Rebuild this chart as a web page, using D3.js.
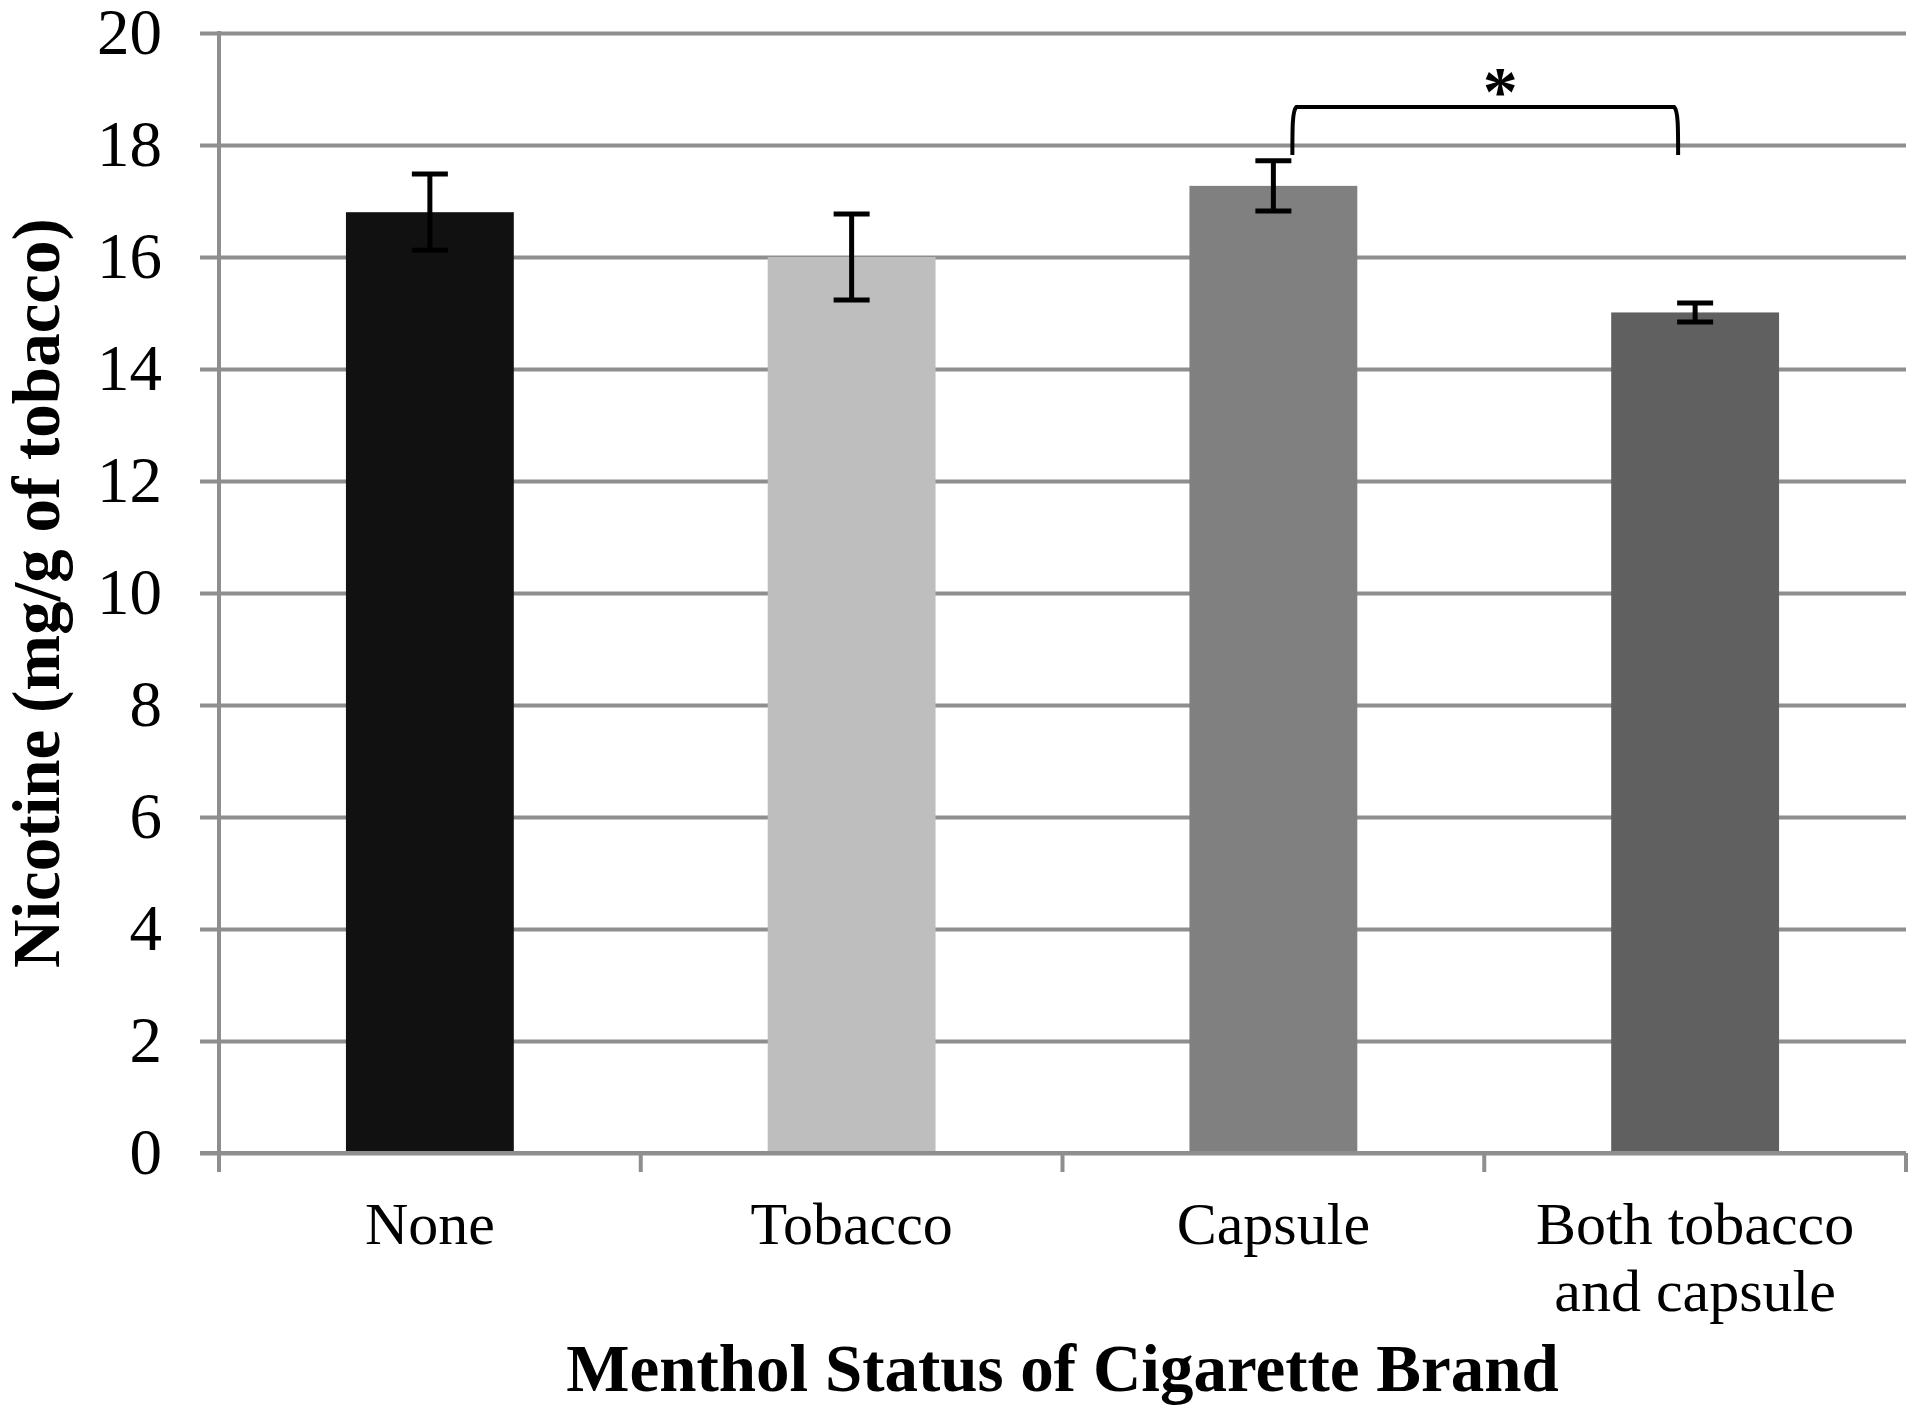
<!DOCTYPE html>
<html>
<head>
<meta charset="utf-8">
<script src="https://cdn.jsdelivr.net/npm/d3@7"></script>
<style>
  body { margin: 0; background: #fff; }
  text { font-family: "Liberation Serif", "Times New Roman", serif; fill: #000; }
</style>
</head>
<body>
<div id="chart-area"></div>
<script>
// values
const categories = ["None", "Tobacco", "Capsule", "Both tobacco and capsule"];
const labelLines = [["None"], ["Tobacco"], ["Capsule"], ["Both tobacco", "and capsule"]];
const nicotine = [16.8, 16.0, 17.27, 15.01];
const errors = [0.68, 0.77, 0.45, 0.17];
const barColors = ["#111111", "#bebebe", "#808080", "#606060"];
const yTicks = [0, 2, 4, 6, 8, 10, 12, 14, 16, 18, 20];
const bracket = { from: "Capsule", to: "Both tobacco and capsule", top: 18.68, drop: 17.82, mark: "*" };

const width = 1920, height = 1412;
const plotLeft = 219, plotRight = 1906, plotTop = 33, plotBottom = 1153;

const svg = d3.select("#chart-area").append("svg")
    .attr("width", width)
    .attr("height", height);

const x = d3.scaleBand()
    .domain(categories)
    .range([plotLeft, plotRight])
    .padding(0);

const y = d3.scaleLinear()
    .domain([0, 20])
    .range([plotBottom, plotTop]);

// gridlines + y tick labels
const yAxis = svg.append("g")
    .attr("transform", "translate(200,0)")
    .call(d3.axisLeft(y).tickValues(yTicks).tickSize(-(plotRight - 200)).tickPadding(38));
yAxis.select(".domain").remove();
yAxis.selectAll(".tick line")
    .attr("stroke", "#8e8e8e")
    .attr("stroke-width", 4);
yAxis.selectAll(".tick text")
    .style("font-family", "'Liberation Serif', 'Times New Roman', serif")
    .style("font-size", "65px")
    .attr("fill", "#000");

// vertical axis line
svg.append("line")
    .attr("x1", plotLeft).attr("x2", plotLeft)
    .attr("y1", y(20) - 2).attr("y2", plotBottom + 19)
    .attr("stroke", "#8e8e8e")
    .attr("stroke-width", 4);

// x axis ticks at band edges
const edges = categories.map(d => x(d)).concat([x.range()[1]]);
svg.selectAll(".xtick")
    .data(edges)
    .enter()
    .append("line")
    .attr("x1", d => d).attr("x2", d => d)
    .attr("y1", plotBottom).attr("y2", plotBottom + 19)
    .attr("stroke", "#8e8e8e")
    .attr("stroke-width", 4);

// bars
const barW = x.bandwidth() * 0.398;
svg.selectAll(".bar")
    .data(categories)
    .enter()
    .append("rect")
    .attr("x", d => x(d) + x.bandwidth() / 2 - barW / 2)
    .attr("y", (d, i) => y(nicotine[i]))
    .attr("width", barW)
    .attr("height", (d, i) => y(0) - y(nicotine[i]) - 1)
    .attr("fill", (d, i) => barColors[i]);

// x axis baseline drawn over bar bottoms
svg.append("line")
    .attr("x1", 200).attr("x2", plotRight)
    .attr("y1", plotBottom).attr("y2", plotBottom)
    .attr("stroke", "#8e8e8e")
    .attr("stroke-width", 4);

// error bars
const capW = 36;
const err = svg.selectAll(".err")
    .data(categories)
    .enter()
    .append("g")
    .attr("stroke", "#000")
    .attr("stroke-width", 5);
err.append("line")
    .attr("x1", d => x(d) + x.bandwidth() / 2)
    .attr("x2", d => x(d) + x.bandwidth() / 2)
    .attr("y1", (d, i) => y(nicotine[i] + errors[i]))
    .attr("y2", (d, i) => y(nicotine[i] - errors[i]));
err.append("line")
    .attr("x1", d => x(d) + x.bandwidth() / 2 - capW / 2)
    .attr("x2", d => x(d) + x.bandwidth() / 2 + capW / 2)
    .attr("y1", (d, i) => y(nicotine[i] + errors[i]))
    .attr("y2", (d, i) => y(nicotine[i] + errors[i]));
err.append("line")
    .attr("x1", d => x(d) + x.bandwidth() / 2 - capW / 2)
    .attr("x2", d => x(d) + x.bandwidth() / 2 + capW / 2)
    .attr("y1", (d, i) => y(nicotine[i] - errors[i]))
    .attr("y2", (d, i) => y(nicotine[i] - errors[i]));

// significance bracket
const bx1 = x(bracket.from) + x.bandwidth() / 2 + 19;
const bx2 = x(bracket.to) + x.bandwidth() / 2 - 17;
const byTop = y(bracket.top), byDrop = y(bracket.drop);
svg.append("path")
    .attr("d", `M${bx1},${byDrop} C${bx1},${byTop + 20} ${bx1},${byTop + 4} ${bx1 + 4},${byTop}
                L${bx2 - 4},${byTop} C${bx2},${byTop + 4} ${bx2},${byTop + 20} ${bx2},${byDrop}`)
    .attr("fill", "none")
    .attr("stroke", "#000")
    .attr("stroke-width", 4);
svg.append("text")
    .attr("x", (bx1 + bx2) / 2 + 15)
    .attr("y", byTop + 8)
    .attr("text-anchor", "middle")
    .style("font-size", "70px")
    .style("font-weight", "bold")
    .text(bracket.mark);

// category labels
const lab = svg.selectAll(".xlab")
    .data(categories)
    .enter()
    .append("text")
    .attr("text-anchor", "middle")
    .style("font-size", "60px");
lab.each(function (d, i) {
    d3.select(this).selectAll("tspan")
        .data(labelLines[i])
        .enter()
        .append("tspan")
        .attr("x", x(d) + x.bandwidth() / 2)
        .attr("y", (t, j) => 1244 + j * 67)
        .text(t => t);
});

// axis titles
svg.append("text")
    .attr("x", (plotLeft + plotRight) / 2)
    .attr("y", 1391)
    .attr("text-anchor", "middle")
    .style("font-size", "67px")
    .style("font-weight", "bold")
    .text("Menthol Status of Cigarette Brand");

svg.append("text")
    .attr("transform", `translate(59,${(plotTop + plotBottom) / 2}) rotate(-90)`)
    .attr("text-anchor", "middle")
    .style("font-size", "67px")
    .style("font-weight", "bold")
    .text("Nicotine (mg/g of tobacco)");
</script>
</body>
</html>
